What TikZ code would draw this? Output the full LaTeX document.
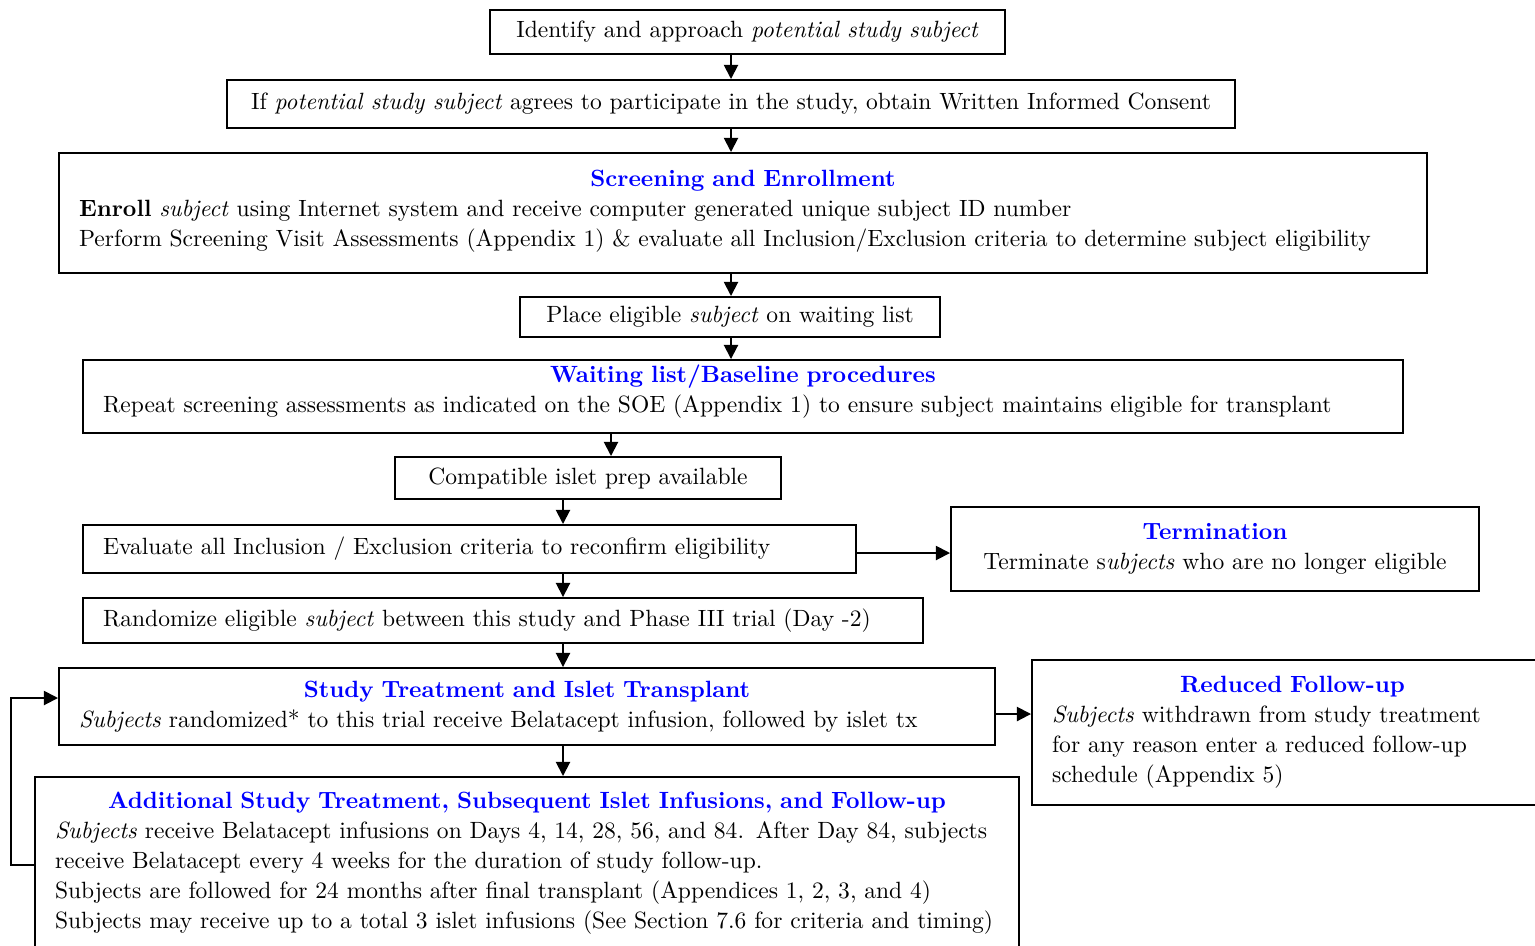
\documentclass[tikz,border=0pt]{standalone}
\usetikzlibrary{arrows.meta, positioning}

\definecolor{ttlblue}{RGB}{0,0,255}
\newcommand{\ttl}[1]{\textcolor{ttlblue}{\bfseries #1}}
\newcommand{\ttlrow}[1]{{\centering\leavevmode\ttl{#1}\par}}

\begin{document}
\begin{tikzpicture}[x=0.425pt, y=-0.425pt,
    every node/.style={font=\fontsize{10}{12.75}\selectfont},
    flow/.style={draw, line width=0.85pt, inner xsep=8.5pt, inner ysep=1pt},
    arr/.style={-{Triangle[length=6pt,width=6pt]}, line width=0.8pt}]
  \useasboundingbox (0,0) rectangle (1535,945);
  \clip (0,0) rectangle (1535,945);

  % main column
  \node[flow, minimum width=218.9pt, minimum height=18.7pt] (ident) at (747.5,32)
    {Identify and approach \textit{potential study subject}};
  \node[flow, minimum width=428.4pt, minimum height=20.4pt] (consent) at (731,104)
    {If \textit{potential study subject} agrees to participate in the study, obtain Written Informed Consent};
  \node[flow, text width=564.4pt, minimum height=51pt, align=left] (screen) at (743,213)
    {\ttlrow{Screening and Enrollment}\textbf{Enroll} \textit{subject} using Internet system and receive computer generated unique subject ID number\\
     Perform Screening Visit Assessments (Appendix 1) \& evaluate all Inclusion/Exclusion criteria to determine subject eligibility\rule[-4pt]{0pt}{0pt}};
  \node[flow, minimum width=178.5pt, minimum height=17pt] (place) at (730,317)
    {Place eligible \textit{subject} on waiting list};
  \node[flow, text width=544pt, minimum height=31pt, align=left] (wait) at (743,396.5)
    {\ttlrow{Waiting list/Baseline procedures}Repeat screening assessments as indicated on the SOE (Appendix 1) to ensure subject maintains eligible for transplant\rule[-7pt]{0pt}{0pt}};
  \node[flow, minimum width=164pt, minimum height=17.85pt] (compat) at (588,478)
    {Compatible islet prep available};
  \node[flow, text width=311.5pt, minimum height=20.4pt, align=left] (eval) at (469.5,549)
    {Evaluate all Inclusion / Exclusion criteria to reconfirm eligibility};
  \node[flow, minimum width=224.4pt, minimum height=35.7pt, align=center] (term) at (1215,549)
    {\ttl{Termination}\\Terminate s\textit{ubjects} who are no longer eligible};
  \node[flow, text width=340pt, minimum height=19.1pt, align=left] (rand) at (503,620.5)
    {Randomize eligible \textit{subject} between this study and Phase III trial (Day -2)};
  \node[flow, text width=380.8pt, minimum height=32.7pt, align=left] (stx) at (527,706.5)
    {\ttlrow{Study Treatment and Islet Transplant}\textit{Subjects} randomized* to this trial receive Belatacept infusion, followed by islet tx};
  \node[flow, text width=204.4pt, minimum height=61.6pt, align=left] (reduce) at (1292.5,732.5)
    {\ttlrow{Reduced Follow-up}\textit{Subjects} withdrawn from study treatment\\
     for any reason enter a reduced follow-up\\
     schedule (Appendix 5)};
  \node[flow, text width=401.2pt, inner ysep=6.5pt, align=left, anchor=north] (addl) at (527,776)
    {\ttlrow{Additional Study Treatment, Subsequent Islet Infusions, and Follow-up}\textit{Subjects} receive Belatacept infusions on Days 4, 14, 28, 56, and 84. After Day 84, subjects\\
     receive Belatacept every 4 weeks for the duration of study follow-up.\\
     Subjects are followed for 24 months after final transplant (Appendices 1, 2, 3, and 4)\\
     Subjects may receive up to a total 3 islet infusions (See Section 7.6 for criteria and timing)\rule[-30pt]{0pt}{0pt}};

  % arrow columns and rows
  \coordinate (colA) at (731,0);
  \coordinate (colB) at (611,0);
  \coordinate (colC) at (563,0);
  \coordinate (rowT) at (0,553);
  \coordinate (rowR) at (0,714);
  \coordinate (loopB) at (11,865);
  \coordinate (loopT) at (11,698);

  \draw[arr] (colA |- ident.south) -- (colA |- consent.north);
  \draw[arr] (colA |- consent.south) -- (colA |- screen.north);
  \draw[arr] (colA |- screen.south) -- (colA |- place.north);
  \draw[arr] (colA |- place.south) -- (colA |- wait.north);
  \draw[arr] (colB |- wait.south) -- (colB |- compat.north);
  \draw[arr] (colC |- compat.south) -- (colC |- eval.north);
  \draw[arr] (colC |- eval.south) -- (colC |- rand.north);
  \draw[arr] (colC |- rand.south) -- (colC |- stx.north);
  \draw[arr] (colC |- stx.south) -- (colC |- addl.north);
  \draw[arr] (rowT -| eval.east) -- (rowT -| term.west);
  \draw[arr] (rowR -| stx.east) -- (rowR -| reduce.west);
  % loop back to treatment
  \draw[arr] (loopB -| addl.west) -- (loopB) -- (loopT) -- (loopT -| stx.west);
\end{tikzpicture}
\end{document}
